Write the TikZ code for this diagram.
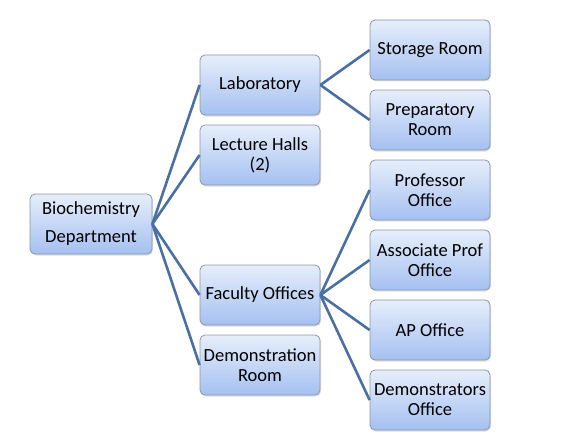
\documentclass[tikz,border=0pt]{standalone}
\usepackage{fontspec}
\setmainfont{Carlito}
\usetikzlibrary{shadows}
\definecolor{boxtop}{HTML}{E6EEFB}
\definecolor{boxbot}{HTML}{A5C0F1}
\definecolor{boxborder}{HTML}{8A96AA}
\definecolor{linkcol}{HTML}{4A6FA5}
\tikzset{
  box/.style={draw=boxborder, line width=0.8pt, rounded corners=5pt,
    top color=boxtop, bottom color=boxbot, minimum width=120pt, minimum height=60pt,
    align=center, font=\fontsize{18.5}{20}\selectfont, text=black, inner sep=1pt,
    drop shadow={shadow xshift=1pt, shadow yshift=-1.5pt, opacity=0.25}},
  link/.style={draw=linkcol, line width=2.6pt}
}
\begin{document}
\begin{tikzpicture}[x=1pt,y=-1pt]
\useasboundingbox (0,0) rectangle (573,444);
\node[box, minimum width=122pt, font=\fontsize{18.5}{28}\selectfont] (bio) at (91,224) {Biochemistry\\Department};
\node[box] (lab) at (260,85) {Laboratory};
\node[box] (lec) at (260,155) {Lecture Halls\\(2)};
\node[box] (fac) at (260,295) {Faculty Offices};
\node[box] (dem) at (260,365) {Demonstration\\Room};
\node[box] (sto) at (430,50) {Storage Room};
\node[box] (pre) at (430,120) {Preparatory\\Room};
\node[box] (pro) at (430,190) {Professor\\Office};
\node[box] (ass) at (430,260) {Associate Prof\\Office};
\node[box] (apo) at (430,330) {AP Office};
\node[box] (dmo) at (430,400) {Demonstrators\\Office};
\foreach \t in {lab,lec,fac,dem} \draw[link] (bio.east) -- (\t.west);
\foreach \t in {sto,pre} \draw[link] (lab.east) -- (\t.west);
\foreach \t in {pro,ass,apo,dmo} \draw[link] (fac.east) -- (\t.west);
\end{tikzpicture}
\end{document}
